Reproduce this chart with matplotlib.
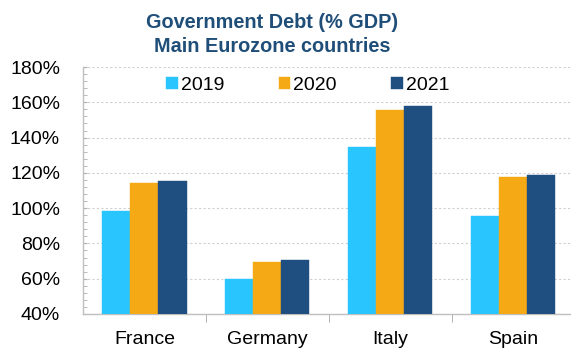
import numpy as np
import matplotlib
matplotlib.use("Agg")
import matplotlib.pyplot as plt
from matplotlib.ticker import MultipleLocator, FuncFormatter

plt.rcParams['font.family'] = ['Liberation Sans', 'DejaVu Sans']

# Government debt as % of GDP
countries = ["France", "Germany", "Italy", "Spain"]
years = ["2019", "2020", "2021"]
debt_2019 = [98.5, 59.8, 134.8, 95.6]
debt_2020 = [114.2, 69.5, 155.9, 117.6]
debt_2021 = [115.5, 70.6, 157.8, 119.0]

colors = ["#29C5FF", "#F5A914", "#1F4E80"]

fig = plt.figure(figsize=(5.71, 3.5), dpi=100)
ax = fig.add_axes([83 / 571, 36 / 350, 488 / 571, 247 / 350])

x = np.arange(len(countries))
width = 0.228
for i, (vals, label, c) in enumerate(zip([debt_2019, debt_2020, debt_2021], years, colors)):
    ax.bar(x + (i - 1) * width, np.array(vals) - 40, width, bottom=40,
           color=c, label=label, zorder=3, edgecolor=c, linewidth=0.3)

ax.set_ylim(40, 180)
ax.set_xlim(-0.5, 3.47)
ax.yaxis.set_major_locator(MultipleLocator(20))
ax.yaxis.set_minor_locator(MultipleLocator(4))
ax.yaxis.set_major_formatter(FuncFormatter(lambda v, p: f"{v:.0f}%"))
ax.tick_params(axis='y', which='both', direction='in', length=3, color='#B0B0B0',
               labelsize=14, pad=16.5)

# category labels centered, ticks at group boundaries
ax.set_xticks(x)
ax.set_xticklabels(countries, fontsize=14)
ax.tick_params(axis='x', which='major', length=0, pad=12)
ax.set_xticks(np.arange(0.5, 3.0, 1.0), minor=True)
ax.tick_params(axis='x', which='minor', direction='out', length=6, color='#A6A6A6')

ax.grid(axis='y', which='major', linestyle=(0, (2, 2)), color='#D0D0D0', linewidth=0.8, zorder=0)
for s in ["top", "right"]:
    ax.spines[s].set_visible(False)
for s in ["left", "bottom"]:
    ax.spines[s].set_color('#BFBFBF')
    ax.spines[s].set_linewidth(1.0)

leg = ax.legend(loc='upper left', bbox_to_anchor=(0.135, 1.03), ncol=3, frameon=False,
                fontsize=14, handlelength=0.6, handleheight=0.6, handletextpad=0.15,
                columnspacing=2.8)

fig.text(272 / 571, 1 - 22 / 350, "Government Debt (% GDP)", ha='center', va='center',
         fontsize=14.3, fontweight='bold', color='#1F4E79')
fig.text(272 / 571, 1 - 47 / 350, "Main Eurozone countries", ha='center', va='center',
         fontsize=14.3, fontweight='bold', color='#1F4E79')

fig.savefig("out.png", dpi=100)
